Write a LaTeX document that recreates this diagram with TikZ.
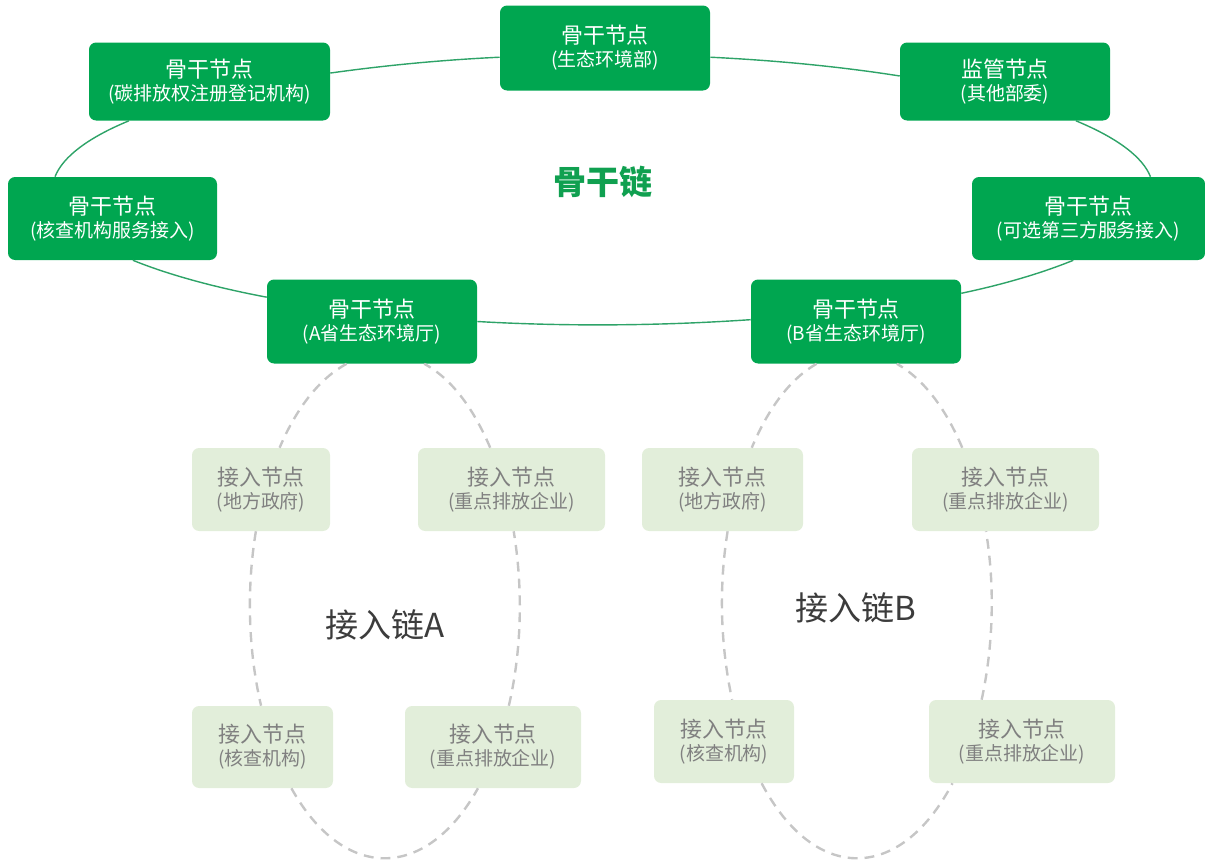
\documentclass[tikz,border=0pt]{standalone}
\usepackage{fontspec}
\setmainfont{Noto Sans CJK SC}
\usetikzlibrary{calc}
\definecolor{bbgreen}{RGB}{0,166,80}
\definecolor{ringgreen}{RGB}{46,163,104}
\definecolor{titlegreen}{RGB}{16,160,80}
\definecolor{accfill}{RGB}{226,238,218}
\definecolor{acctext}{RGB}{128,128,128}
\definecolor{dashgray}{RGB}{198,198,198}
\definecolor{labelgray}{RGB}{60,60,60}
% elliptical arc between two node anchors: #1 style, #2 start, #3 end, #4 t0, #5 t1, #6 rx, #7 ry
\newcommand\ellarc[7]{%
  \pgfmathsetmacro\ekk{4/3*tan(((#5)-(#4))/4)}%
  \draw[#1] (#2) .. controls ($(#2)+({-(\ekk)*#6*sin(#4)},{(\ekk)*#7*cos(#4)})$)
    and ($(#3)+({(\ekk)*#6*sin(#5)},{-(\ekk)*#7*cos(#5)})$) .. (#3);%
}
\begin{document}
\begin{tikzpicture}[x=0.025cm,y=0.025cm,
  wh/.style 2 args={minimum width=#1*0.025cm, minimum height=#2*0.025cm},
  box/.style={rectangle, rounded corners=5pt, inner sep=0pt, align=center,
    font=\fontsize{13.5}{16.3}\selectfont},
  bb/.style={box, fill=bbgreen, text=white},
  acc/.style={box, fill=accfill, text=acctext},
  ring/.style={draw=ringgreen, line width=1pt},
  chain/.style={draw=dashgray, line width=1.7pt, dash pattern=on 7pt off 5pt},
  big/.style={font=\fontsize{23.5}{26}\selectfont},
]
\useasboundingbox (0,0) rectangle (1205,-861);
\newcommand\la[1]{{\fontsize{15.6}{16.3}\selectfont #1}}
% backbone nodes
\node[bb, wh={210}{85}] (tan) at (605,-48) {\la{骨干节点}\\(生态环境部)};
\node[bb, wh={241}{78}] (reg) at (209.5,-81.5) {\la{骨干节点}\\(碳排放权注册登记机构)};
\node[bb, wh={210}{78}] (sup) at (1005,-81.5) {\la{监管节点}\\(其他部委)};
\node[bb, wh={209}{83}] (ver) at (112.5,-218.5) {\la{骨干节点}\\(核查机构服务接入)};
\node[bb, wh={233}{83}] (opt) at (1088.5,-218.5) {\la{骨干节点}\\(可选第三方服务接入)};
\node[bb, wh={210}{84}] (aprov) at (372,-321.5) {\la{骨干节点}\\(A省生态环境厅)};
\node[bb, wh={210}{84}] (bprov) at (856,-321.5) {\la{骨干节点}\\(B省生态环境厅)};
% access nodes chain A
\node[acc, wh={138}{83}] (a1) at (261,-489.5) {\la{接入节点}\\(地方政府)};
\node[acc, wh={187}{83}] (a2) at (511.5,-489.5) {\la{接入节点}\\(重点排放企业)};
\node[acc, wh={141}{82}] (a3) at (262.5,-747) {\la{接入节点}\\(核查机构)};
\node[acc, wh={176}{82}] (a4) at (493,-747) {\la{接入节点}\\(重点排放企业)};
% access nodes chain B
\node[acc, wh={161}{83}] (b1) at (722.5,-489.5) {\la{接入节点}\\(地方政府)};
\node[acc, wh={187}{83}] (b2) at (1005.5,-489.5) {\la{接入节点}\\(重点排放企业)};
\node[acc, wh={140}{83}] (b3) at (724,-741.5) {\la{接入节点}\\(核查机构)};
\node[acc, wh={186}{83}] (b4) at (1022,-741.5) {\la{接入节点}\\(重点排放企业)};
% labels
\node[big, text=titlegreen, font=\fontsize{23.5}{26}\selectfont\bfseries] (tbb) at (603,-182) {骨干链};
\node[big, text=labelgray] (tA) at (385,-625) {接入链A};
\node[big, text=labelgray] (tB) at (856,-607.5) {接入链B};
% backbone ring
\ellarc{ring}{tan.185}{reg.4}{100.8}{119.76}{550}{135}
\ellarc{ring}{tan.355}{sup.177}{78.78}{57.3}{550}{135}
\ellarc{ring}{sup.331}{opt.34}{30.7}{5.53}{550}{135}
\ellarc{ring}{opt.250}{bprov.15}{-31.2}{-49.4}{550}{135}
\ellarc{ring}{bprov.179}{aprov.0}{-74.4}{-103.2}{550}{135}
\ellarc{ring}{aprov.167}{ver.296}{-127.66}{-148.8}{550}{135}
\ellarc{ring}{ver.144}{reg.206}{174.47}{149.3}{550}{135}
% access chain A
\ellarc{chain}{aprov.239}{a1.66}{106.2}{141.4}{135}{252.5}
\ellarc{chain}{a1.263}{a3.92}{162.84}{203.45}{135}{252.5}
\ellarc{chain}{a3.305}{a4.250}{226.28}{313.72}{135}{252.5}
\ellarc{chain}{a4.69}{a2.273}{336.55}{377.16}{135}{252.5}
\ellarc{chain}{a2.117}{aprov.321}{38.6}{73.8}{135}{252.5}
% access chain B
\ellarc{chain}{bprov.227}{b1.55}{106.97}{141.64}{135}{253}
\ellarc{chain}{b1.277}{b3.79}{162.99}{202.06}{135}{253}
\ellarc{chain}{b3.312}{b4.211}{224.71}{315.29}{135}{253}
\ellarc{chain}{b4.134}{b2.245}{337.94}{377.01}{135}{253}
\ellarc{chain}{b2.136}{bprov.314}{38.36}{73.03}{135}{253}
\end{tikzpicture}
\end{document}
